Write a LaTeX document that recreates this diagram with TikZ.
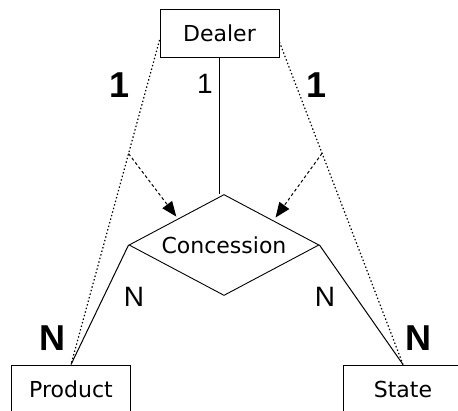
\documentclass[tikz,border=0pt]{standalone}
\usepackage{fontspec}
\setmainfont{DejaVu Sans}
\newfontfamily\labfont{Liberation Sans}
\usetikzlibrary{shapes.geometric,arrows.meta,calc}
\tikzset{
  entity/.style={draw, line width=0.9pt, minimum width=119pt, minimum height=48pt, inner sep=0pt, font=\fontsize{22}{24}\selectfont},
  rel/.style={draw, diamond, shape aspect=1.9, line width=0.9pt, minimum width=190pt, minimum height=101pt, inner sep=0pt, font=\fontsize{22}{24}\selectfont},
  link/.style={line width=1pt},
  dotline/.style={line width=1.2pt, dash pattern=on 1.4pt off 2.3pt},
  dasharrow/.style={line width=1pt, dash pattern=on 3pt off 2.5pt, -{Triangle[length=15pt,width=12pt]}},
  thinlab/.style={font=\labfont\fontsize{28}{30}\selectfont, inner sep=0pt},
  boldlab/.style={font=\labfont\bfseries\fontsize{36}{38}\selectfont, inner sep=0pt}
}
\begin{document}
\begin{tikzpicture}[x=1pt,y=-1pt]
\clip (0,0) rectangle (458,410);
\fill[white] (0,0) rectangle (458,410);
\node[entity] (Dealer) at (219.5,33) {Dealer};
\node[rel] (C) at (224,245) {Concession};
\node[entity] (Product) at (71,389) {Product};
\node[entity] (State) at (403,389) {State};
% solid links
\draw[link] (Dealer.south) -- (Dealer.south |- C.north);
\draw[link] (C.west) -- (Product.north);
\draw[link] (C.east) -- (State.north);
% dotted links
\coordinate (dl) at ($(Dealer.west)+(0,7)$);
\coordinate (dr) at ($(Dealer.east)+(0,9)$);
\draw[dotline] (dl) -- (Product.north);
\draw[dotline] (dr) -- (State.north);
% dashed arrows
\coordinate (al) at ($(dl)!0.35!(Product.north)$);
\coordinate (ar) at ($(dr)!0.345!(State.north)$);
\coordinate (tl) at ($(C.north)!0.5!(C.west)+(0,-3)$);
\coordinate (tr) at ($(C.north)!0.54!(C.east)+(0,-4)$);
\draw[dasharrow] (al) -- (tl);
\draw[dasharrow] (ar) -- (tr);
% labels
\node[boldlab] (b1l) at (120,85) {1};
\node[thinlab] (t1) at (205,84) {1};
\node[boldlab] (b1r) at (317,85) {1};
\node[thinlab] (tnl) at (134,297) {N};
\node[thinlab] (tnr) at (325,297) {N};
\node[boldlab] (bnl) at (52,338) {N};
\node[boldlab] (bnr) at (418,338) {N};
\end{tikzpicture}
\end{document}
